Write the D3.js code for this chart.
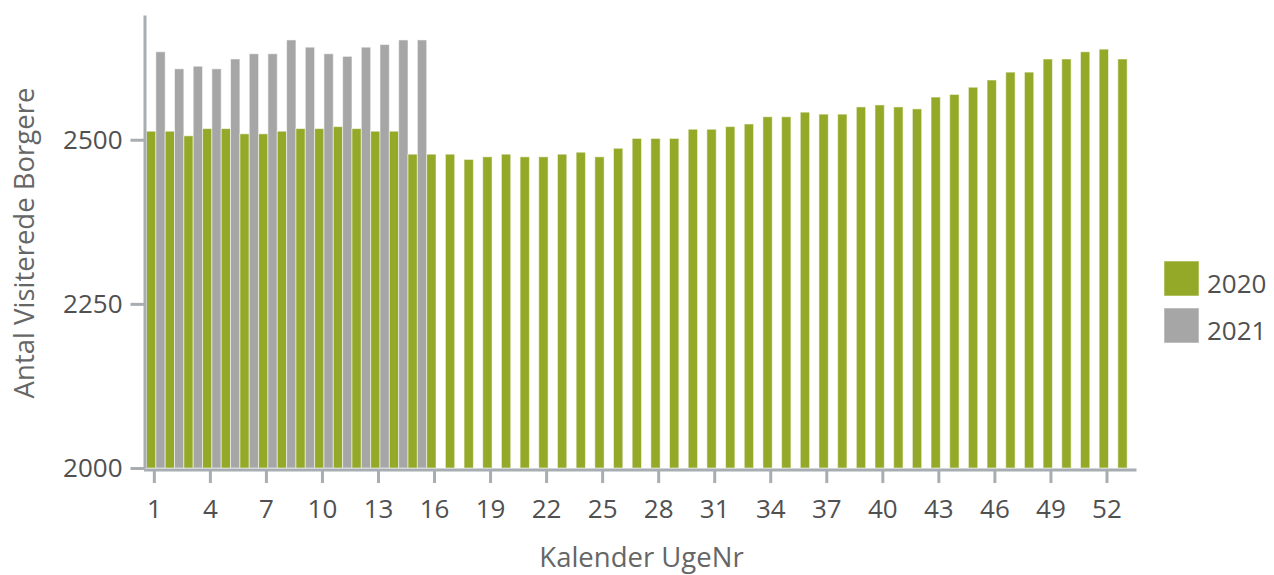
<!DOCTYPE html>
<html>
<head>
<meta charset="utf-8">
<script src="https://cdn.jsdelivr.net/npm/d3@7"></script>
<style>
  body { margin: 0; background: #fff; }
  #chart { width: 1274px; height: 575px; }
  text { font-family: "Open Sans", "Noto Sans", sans-serif; }
</style>
</head>
<body>
<div id="chart"></div>
<script>
// Antal visiterede borgere pr. kalenderuge, 2020 vs 2021
const weeks = d3.range(1, 54);
const series = ['2020', '2021'];
const values2020 = [
  2513, 2513, 2506, 2517, 2517, 2509, 2509, 2513, 2517, 2517,
  2520, 2517, 2513, 2513, 2478, 2478, 2478, 2470, 2474, 2478,
  2474, 2474, 2478, 2481, 2474, 2487, 2502, 2502, 2502, 2516,
  2516, 2520, 2524, 2535, 2535, 2542, 2539, 2539, 2550, 2553,
  2550, 2547, 2565, 2569, 2580, 2591, 2603, 2603, 2623, 2623,
  2634, 2638, 2623
];
const values2021 = [
  2634, 2608, 2612, 2608, 2623, 2631, 2631, 2652, 2641, 2631,
  2627, 2641, 2645, 2652, 2652
];
const xTicks = [1, 4, 7, 10, 13, 16, 19, 22, 25, 28, 31, 34, 37, 40, 43, 46, 49, 52];
const yTicks = [2000, 2250, 2500];
const colors = { '2020': '#95a928', '2021': '#a6a6a6' };

const W = 1274, H = 575;
const plot = { left: 146.5, right: 1136.5, top: 15, bottom: 468 };

const svg = d3.select('#chart').append('svg')
  .attr('width', W)
  .attr('height', H);

const x = d3.scaleBand()
  .domain(weeks)
  .range([plot.left, plot.right])
  .padding(0);
const xInner = d3.scaleBand()
  .domain(series)
  .range([0, x.bandwidth()])
  .padding(0);
const y = d3.scaleLinear()
  .domain([2000, 2690])
  .range([plot.bottom, plot.top]);

// rows for bars
const rows = [];
weeks.forEach((w, i) => {
  if (values2020[i] != null) rows.push({ week: w, year: '2020', value: values2020[i] });
  if (values2021[i] != null) rows.push({ week: w, year: '2021', value: values2021[i] });
});

svg.append('g')
  .selectAll('rect')
  .data(rows)
  .enter().append('rect')
    .attr('x', d => x(d.week) + xInner(d.year))
    .attr('y', d => y(d.value))
    .attr('width', xInner.bandwidth())
    .attr('height', d => y(2000) - y(d.value))
    .attr('fill', d => colors[d.year])
    .attr('stroke', 'rgba(255,255,255,0.55)')
    .attr('stroke-width', 1);

const axisColor = '#a8adb2';
const labelColor = '#505050';

// x axis
const gx = svg.append('g')
  .attr('transform', `translate(-1.5,${plot.bottom + 2})`)
  .call(d3.axisBottom(x).tickValues(xTicks).tickSize(13).tickSizeOuter(0));
gx.select('.domain')
  .attr('d', `M${plot.left - 1},0H${plot.right + 1.5}`)
  .attr('stroke', axisColor).attr('stroke-width', 3);
gx.selectAll('.tick line').attr('stroke', axisColor).attr('stroke-width', 3);
gx.selectAll('.tick text')
  .attr('y', 48).attr('dy', 0)
  .attr('fill', labelColor)
  .style('font-size', '26px');

// y axis
const gy = svg.append('g')
  .attr('transform', `translate(${plot.left - 2},0)`)
  .call(d3.axisLeft(y).tickValues(yTicks).tickFormat(d3.format('d'))
    .tickSize(14).tickSizeOuter(0).tickPadding(8));
gy.select('.domain').attr('stroke', axisColor).attr('stroke-width', 3);
gy.selectAll('.tick line').attr('stroke', axisColor).attr('stroke-width', 3);
gy.selectAll('.tick text')
  .attr('fill', labelColor)
  .style('font-size', '26px');

// axis titles
svg.append('text')
  .attr('x', (plot.left + plot.right) / 2)
  .attr('y', 567)
  .attr('text-anchor', 'middle')
  .attr('fill', '#666')
  .style('font-size', '27.5px')
  .text('Kalender UgeNr');

svg.append('text')
  .attr('transform', 'rotate(-90)')
  .attr('x', -243)
  .attr('y', 34)
  .attr('text-anchor', 'middle')
  .attr('fill', '#666')
  .style('font-size', '27.5px')
  .text('Antal Visiterede Borgere');

// legend
const legend = svg.append('g')
  .attr('transform', 'translate(1164,261)');
series.forEach((s, i) => {
  const g = legend.append('g').attr('transform', `translate(0,${i * 47})`);
  g.append('rect')
    .attr('width', 35).attr('height', 35)
    .attr('fill', colors[s])
    .attr('stroke', 'rgba(255,255,255,0.55)');
  g.append('text')
    .attr('x', 43).attr('y', 32)
    .attr('fill', labelColor)
    .style('font-size', '26px')
    .text(s);
});
</script>
</body>
</html>
